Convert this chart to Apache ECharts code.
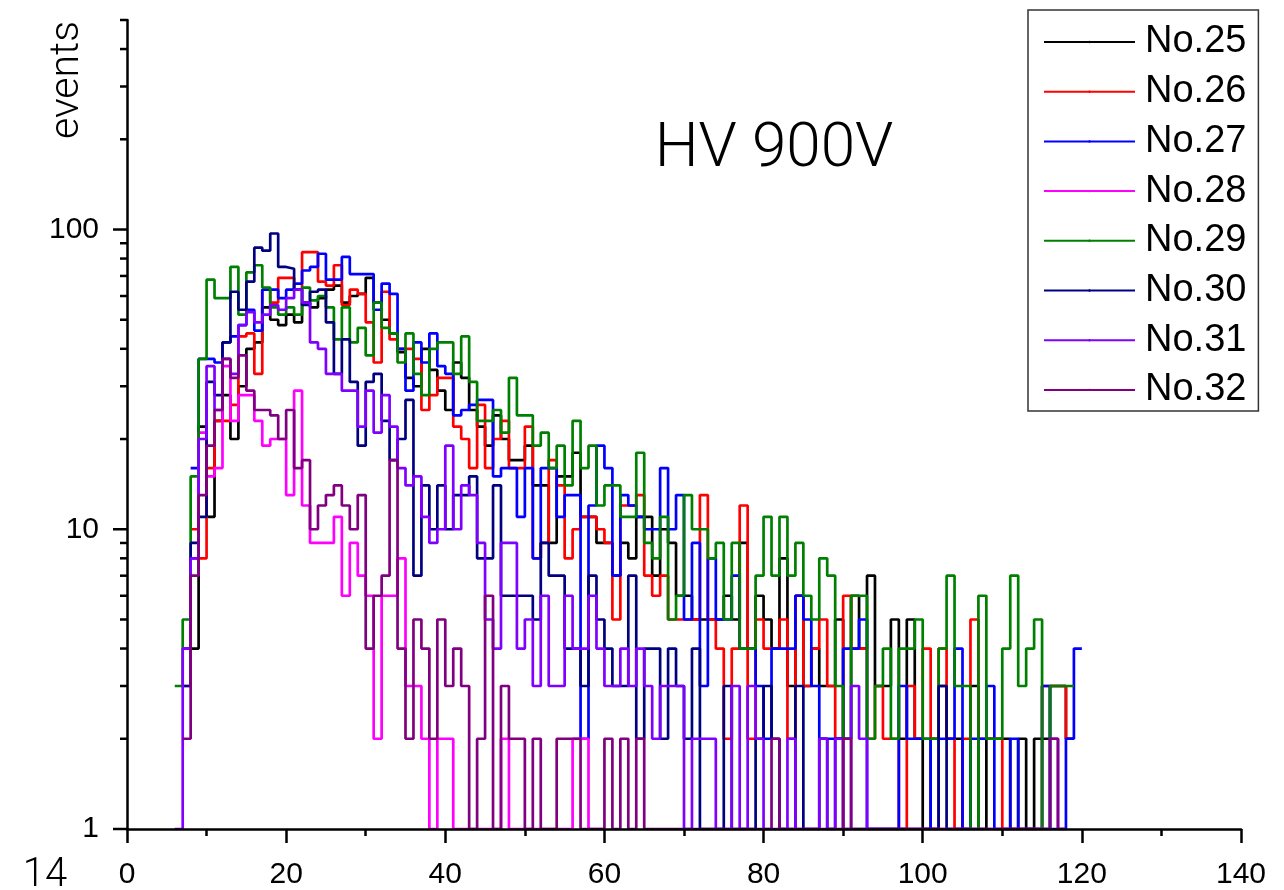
<!DOCTYPE html>
<html>
<head>
<meta charset="utf-8">
<title>HV 900V</title>
<script src="https://cdn.jsdelivr.net/npm/echarts@6/dist/echarts.min.js"></script>
<style>
  html, body { margin: 0; padding: 0; background: #fff; }
  #chart { width: 1284px; height: 890px; }
</style>
</head>
<body>
<div id="chart"></div>
<script>
// every histogram starts at bin 6, bins are 1 wide; null = bin not filled yet
const binStart = 6

const names = ['No.25', 'No.26', 'No.27', 'No.28', 'No.29', 'No.30', 'No.31', 'No.32']

const no25 = [null, 4, 4, 22, 11, 23, 28, 20, 30, 40,
  42, 55, 50, 48, 52, 49, 57, 55, 59, 63,
  65, 57, 60, 61, 69, 57, 50, 45, 39, 32,
  30, 40, 34, 29, 25, 36, 32, 25, 22, 19,
  24, 20, 17, 17, 19, 14, 14, 9, 15, 15,
  18, 11, 11, 9, 9, 7, 9, 8, 11, 11,
  7, 10, 9, 6, 6, 5, 5, 5, 5, 6,
  5, 9, 4, 6, 5, 4, 8, 3, 6, 3,
  4, 3, 3, 5, 2, 6, 4, 7, 3, 3,
  5, 2, 5, 2, 1, 2, 3, 2, 2, 1,
  3, 1, 2, 2, 2, 1, 2, 1, 2, 2,
  3, 3, 2]

const no26 = [null, null, 10, 8, 16, 23, 23, 26, 44, 45,
  33, 63, 57, 69, 69, 63, 84, 84, 67, 65,
  76, 56, 63, 61, 49, 36, 62, 43, 40, 40,
  37, 25, 28, 32, 32, 22, 20, 16, 26, 16,
  20, 23, 16, 16, 22, 8, 9, 17, 14, 8,
  10, 11, 11, 10, 9, 5, 12, 12, 13, 7,
  6, 7, 5, 5, 5, 5, 13, 5, 4, 2,
  4, 12, 2, 5, 4, 4, 5, 2, 6, 3,
  4, 5, 3, 2, 6, 4, 4, 2, 3, 2,
  2, 1, 3, 2, 4, 2, 4, 2, 1, 2,
  5, 2, 2, 2, 1, 1, 1, 1, 1, 3,
  3, 3, 2]

const no27 = [null, null, 16, 37, 37, 36, 42, 44, 48, 54,
  46, 63, 63, 59, 63, 66, 73, 75, 83, 68,
  68, 81, 71, 71, 71, 54, 66, 61, 40, 29,
  42, 36, 45, 35, 33, 24, 25, 26, 27, 27,
  15, 16, 16, 11, 16, 8, 16, 16, 11, 13,
  13, 2, 12, 19, 16, 7, 13, 12, 11, 10,
  10, 16, 10, 13, 5, 9, 3, 8, 5, 5,
  7, 4, 4, 3, 2, 4, 4, 4, 6, 5,
  3, 2, 2, 2, 4, 4, 5, 1, 1, 1,
  1, 3, 2, 2, 2, 1, 2, 2, 4, 1,
  2, 2, 3, 1, 1, 2, 1, 1, 1, 3,
  1, 1, 2, 4]

const no28 = [null, 3, 8, 21, 15, 16, 35, 23, 28, 28,
  23, 19, 20, 20, 13, 29, 12, 9, 9, 9,
  11, 6, 9, 7, 6, 2, 6, 6, 8, 3,
  3, 2, 1, 2, 2, 1, 1, 1, 1, 1,
  1, 2, 1, 1, 1, 1, 1, 1, 1, 1,
  2, 2, 1, 1]

const no29 = [3, 5, 15, 37, 68, 59, 59, 75, 52, 72,
  76, 64, 55, 52, 55, 52, 64, 58, 60, 55,
  43, 55, 42, 47, 38, 57, 47, 45, 36, 45,
  33, 28, 40, 42, 42, 33, 44, 31, 23, 23,
  25, 21, 32, 24, 24, 19, 21, 16, 19, 14,
  23, 16, 19, 12, 14, 14, 11, 11, 18, 9,
  8, 11, 5, 6, 13, 10, 10, 8, 9, 5,
  9, 4, 4, 7, 11, 7, 11, 7, 9, 6,
  5, 8, 7, 3, 2, 6, 6, 2, 3, 4,
  2, 4, 4, 5, 2, 2, 4, 7, 3, 3,
  1, 6, 2, 2, 4, 7, 3, 4, 5, 1,
  3, 3, 3]

const no30 = [null, 3, 9, 11, 31, 28, 42, 62, 54, 67,
  87, 85, 97, 75, 74, 63, 56, 62, 63, 49,
  33, 43, 31, 19, 31, 33, 23, 17, 20, 27,
  7, 14, 10, 14, 10, 13, 13, 15, 8, 8,
  14, 6, 6, 6, 6, 5, 9, 7, 7, 4,
  4, 3, 7, 5, 4, 3, 3, 7, 2, 4,
  4, 2, 4, 3, 2, 4, 1, 1, 1, 3,
  1, 1, 1, 2, 3, 2, 1, 1, 3, 1,
  1, 2, 1, 2, 1, 1, 1, 1, 1, 1,
  1, 1, 1, 1, 1, 1, 3, 1, 1]

const no31 = [1, 4, 8, 20, 35, 25, 37, 33, 48, 53,
  49, 52, 56, 54, 59, 63, 57, 42, 40, 33,
  33, 29, 29, 22, 29, 21, 28, 22, 16, 14,
  15, 11, 9, 10, 19, 10, 14, 13, 9, 5,
  4, 9, 9, 4, 5, 3, 6, 3, 3, 6,
  4, 4, 6, 4, 3, 3, 4, 3, 4, 3,
  2, 3, 3, 3, 1, 2, 2, 2, 1, 1,
  3, 1, 3, 2, 1, 1, 1, 2, 1, 1,
  1, 2, 1, 2, 1, 3, 2, 1, 1, 1,
  1, 1, 1, 1, 1, 1, 1, 1, 1, 1,
  1, 1, 1, 1, 1, 1, 1, 1, 1, 1,
  2, 1]

const no32 = [null, 2, 7, 13, 19, 25, 37, 32, 38, 29,
  25, 25, 24, 20, 25, 16, 17, 10, 12, 13,
  14, 12, 10, 13, 4, 6, 7, 17, 4, 2,
  5, 4, 2, 5, 3, 4, 3, 1, 2, 6,
  1, 3, 2, 2, 1, 2, 1, 1, 2, 2,
  2, 1, 1, 1, 2, 1, 2, 1, 2, 1,
  1, 1, 1, 1, 1, 1, 1, 1, 1, 1,
  1, 1, 1, 1, 1, 2, 1, 1, 1, 1,
  1, 1, 1, 1, 2, 1, 1, 1, 1, 1,
  1, 1, 1, 1, 1, 1, 1, 1, 1, 1,
  1, 1, 1, 1, 1, 1, 1, 1, 1, 1,
  2, 1]

const yLabels = [1, 10, 100]
const yMinorTicks = [2, 3, 4, 5, 6, 7, 8, 9, 20, 30, 40, 50, 60, 70, 80, 90, 200, 300, 400, 500]

const colors = ['#000000', '#ff0000', '#0000ff', '#ff00ff', '#008000', '#000080', '#8000ff', '#800080']
const allCounts = [no25, no26, no27, no28, no29, no30, no31, no32]

// left edge of every bin, plus the right edge of the last one
function toSteps(values) {
  const pts = []
  values.forEach((v, i) => {
    if (v !== null) pts.push([binStart + i, v])
  })
  const last = pts[pts.length - 1]
  pts.push([last[0] + 1, last[1]])
  return pts
}

const chart = echarts.init(document.getElementById('chart'))

const lineSeries = names.map((name, i) => ({
  name,
  type: 'line',
  step: 'end',
  symbol: 'none',
  lineStyle: { color: colors[i], width: 2.7 },
  itemStyle: { color: colors[i] },
  data: toSteps(allCounts[i])
}))

// log axis ticks at 1..9, 10..90, ... drawn through the axis scale
const yTickData = yLabels.map(v => [0, v, 1]).concat(yMinorTicks.map(v => [0, v, 0]))

const lightFont = 'Roboto, Liberation Sans, sans-serif'

chart.setOption({
  animation: false,
  backgroundColor: '#fff',
  textStyle: { fontFamily: 'Liberation Sans, Arial, sans-serif' },
  grid: { left: 127, right: 43, top: 20, bottom: 60, containLabel: false },
  legend: {
    data: names,
    orient: 'vertical',
    left: 1028,
    top: 10,
    padding: [13, 12, 2, 15],
    itemWidth: 91,
    itemHeight: 3,
    itemGap: 11.7,
    borderColor: '#333',
    borderWidth: 1.5,
    backgroundColor: '#fff',
    textStyle: { fontSize: 38, lineHeight: 38, color: '#000', padding: [0, 0, 0, 5] }
  },
  graphic: [
    {
      type: 'text', x: 774, y: 150,
      style: {
        text: 'HV 900V', align: 'center', verticalAlign: 'middle',
        fontSize: 62, fontWeight: 300, fontFamily: lightFont, fill: '#000'
      }
    },
    {
      type: 'text', x: 68, y: 80, rotation: Math.PI / 2,
      style: {
        text: 'events', align: 'center', verticalAlign: 'middle',
        fontSize: 41, fontWeight: 300, fontFamily: lightFont, fill: '#000'
      }
    },
    {
      type: 'text', x: 45, y: 876,
      style: {
        text: '14', align: 'center', verticalAlign: 'middle',
        fontSize: 40, fontWeight: 300, fontFamily: lightFont, fill: '#000'
      }
    }
  ],
  xAxis: {
    type: 'value',
    min: 0,
    max: 140,
    interval: 20,
    z: 10,
    axisLine: { lineStyle: { color: '#000', width: 2.5 } },
    axisTick: { length: 14, lineStyle: { color: '#000', width: 2.5 } },
    minorTick: { show: true, splitNumber: 2, length: 7, lineStyle: { color: '#000', width: 2.5 } },
    splitLine: { show: false },
    axisLabel: { fontSize: 30, color: '#000', margin: 31 }
  },
  yAxis: {
    type: 'log',
    logBase: 10,
    min: 1,
    max: 500,
    z: 10,
    axisLine: { lineStyle: { color: '#000', width: 2.5 } },
    axisTick: { show: false },
    splitLine: { show: false },
    axisLabel: {
      fontSize: 30,
      color: '#000',
      margin: 28,
      showMaxLabel: false,
      formatter: v => (yLabels.indexOf(Math.round(v)) >= 0 ? String(Math.round(v)) : '')
    }
  },
  series: lineSeries.concat([{
    type: 'custom',
    silent: true,
    clip: false,
    z: 10,
    data: yTickData,
    renderItem(params, api) {
      const p = api.coord([api.value(0), api.value(1)])
      const len = api.value(2) ? 14 : 7
      return {
        type: 'line',
        shape: { x1: p[0] - len, y1: p[1], x2: p[0], y2: p[1] },
        style: { stroke: '#000', lineWidth: 2.5 }
      }
    }
  }])
})
</script>
</body>
</html>
